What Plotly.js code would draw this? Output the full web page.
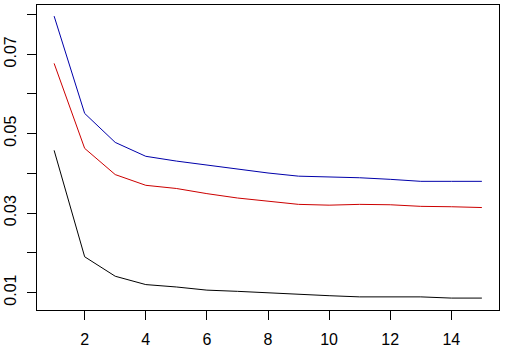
<!DOCTYPE html>
<html>
<head>
<meta charset="utf-8">
<script src="https://cdn.plot.ly/plotly-3.0.1.min.js"></script>
<style>html,body{margin:0;padding:0;background:#fff;}#chart{width:506px;height:348px;}</style>
</head>
<body>
<div id="chart"></div>
<script>
const xs = [1,2,3,4,5,6,7,8,9,10,11,12,13,14,15];
const blueSeries = [0.0796,0.0551,0.0478,0.0443,0.0431,0.0421,0.0410,0.0401,0.0393,0.0391,0.0389,0.0385,0.0380,0.0380,0.0380];
const redSeries = [0.0677,0.0463,0.0397,0.0370,0.0362,0.0349,0.0338,0.0330,0.0322,0.0320,0.0322,0.0321,0.0317,0.0316,0.0314];
const blackSeries = [0.0458,0.0190,0.0141,0.0120,0.0114,0.0106,0.0103,0.0099,0.0095,0.0092,0.0089,0.0089,0.0089,0.0086,0.0086];
const xTicks = [2,4,6,8,10,12,14];
const yTicks = [0.01,0.02,0.03,0.04,0.05,0.06,0.07,0.08];
const yTickText = ["0.01","","0.03","","0.05","","0.07",""];

const mk = (y, c) => ({x: xs, y: y, type: 'scatter', mode: 'lines', line: {color: c, width: 1}, hoverinfo: 'skip'});
const data = [mk(blackSeries, '#000000'), mk(redSeries, '#CC0000'), mk(blueSeries, '#0000AA')];

const layout = {
  width: 506, height: 348,
  margin: {l: 37, r: 7, t: 5, b: 38},
  paper_bgcolor: '#fff', plot_bgcolor: '#fff',
  showlegend: false,
  font: {family: 'Liberation Sans, Arial, sans-serif', size: 16, color: '#000'},
  xaxis: {
    range: [0.44, 15.56], tickvals: xTicks, ticktext: xTicks.map(String),
    ticks: 'outside', ticklen: 9, tickwidth: 1, tickcolor: '#000', ticklabelstandoff: 6,
    showgrid: false, zeroline: false, showline: true, mirror: true, linecolor: '#000', linewidth: 1,
    tickfont: {size: 16}
  },
  yaxis: {
    range: [0.0056, 0.0824], tickvals: yTicks, ticktext: yTickText,
    ticks: 'outside', ticklen: 9, tickwidth: 1, tickcolor: '#000', tickangle: -90, ticklabelstandoff: 5,
    showgrid: false, zeroline: false, showline: true, mirror: true, linecolor: '#000', linewidth: 1,
    tickfont: {size: 16}
  }
};
Plotly.newPlot('chart', data, layout, {staticPlot: true, displayModeBar: false});
</script>
</body>
</html>
